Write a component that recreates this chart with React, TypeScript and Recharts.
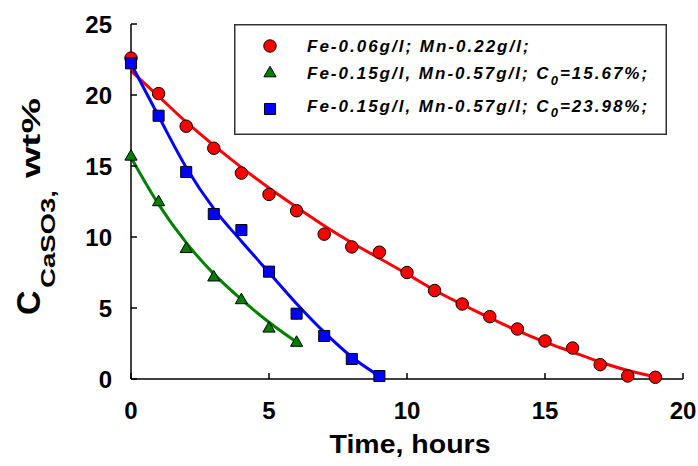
import React from 'react';
import { ComposedChart, Line, Scatter, XAxis, YAxis, Legend, Label, Symbols } from 'recharts';

const FONT = 'Arial, "Liberation Sans", sans-serif';

// measured points
const redHours = [0, 1, 2, 3, 4, 5, 6, 7, 8, 9, 10, 11, 12, 13, 14, 15, 16, 17, 18, 19];
const redValues = [22.6, 20.1, 17.8, 16.25, 14.5, 13.0, 11.85, 10.2, 9.3, 8.93, 7.5, 6.23, 5.28, 4.39, 3.52, 2.68, 2.18, 1.01, 0.21, 0.12];
const greenHours = [0, 1, 2, 3, 4, 5, 6];
const greenValues = [15.66, 12.45, 9.15, 7.15, 5.55, 3.55, 2.55];
const blueHours = [0, 1, 2, 3, 4, 5, 6, 7, 8, 9];
const blueValues = [22.23, 18.54, 14.58, 11.62, 10.49, 7.56, 4.6, 3.03, 1.41, 0.21];

// fitted curves
const redFit = [21.7, 19.9, 18.1, 16.45, 14.9, 13.45, 12.1, 10.8, 9.6, 8.5, 7.4, 6.25, 5.25, 4.3, 3.4, 2.6, 1.9, 1.2, 0.6, 0.15];
const greenFit = [15.6, 12.3, 9.6, 7.4, 5.6, 4.0, 2.6];
const blueFit = [22.2, 18.5, 14.9, 12.0, 9.7, 7.5, 5.3, 3.3, 1.55, 0.2];

const xTicks = [0, 5, 10, 15, 20];
const yTicks = [0, 5, 10, 15, 20, 25];
const yMinorTicks = [0, 1, 2, 3, 4, 5, 6, 7, 8, 9, 10, 11, 12, 13, 14, 15, 16, 17, 18, 19, 20, 21, 22, 23, 24, 25];

const legendPrefix = ['Fe-0.06g/l; Mn-0.22g/l;', 'Fe-0.15g/l, Mn-0.57g/l; C', 'Fe-0.15g/l, Mn-0.57g/l; C'];
const legendSub = ['', '0', '0'];
const legendSuffix = ['', '=15.67%;', '=23.98%;'];
const legendShapes = ['circle', 'triangle', 'square'] as const;
const legendColors = ['#FF0000', '#008000', '#0000FF'];

const toRows = (xs: number[], ys: number[]) => xs.map((x, i) => ({ x, y: ys[i] }));

const marker = (type: 'circle' | 'triangle' | 'square', fill: string) => (p: any) => (
  <Symbols
    cx={p.cx}
    cy={p.cy}
    type={type}
    size={type === 'triangle' ? 64 : 122}
    fill={fill}
    stroke="#000"
    strokeWidth={1}
  />
);

const YTitle = () => (
  <g transform="translate(39.5, 315) rotate(-90)" fontFamily={FONT} fontWeight="bold" fill="#000">
    <text x={0} y={0} fontSize={34}>C</text>
    <text x={27} y={15.5} fontSize={21} textLength={98} lengthAdjust="spacingAndGlyphs">CaSO3,</text>
    <text x={137} y={0} fontSize={25} textLength={80} lengthAdjust="spacingAndGlyphs">wt%</text>
  </g>
);

const XTitle = (props: any) => {
  const vb = props.viewBox;
  return (
    <text
      x={vb.x + vb.width / 2 + 3}
      y={vb.y + 73.7}
      textAnchor="middle"
      fontFamily={FONT}
      fontWeight="bold"
      fontSize={26}
      textLength={161}
      lengthAdjust="spacingAndGlyphs"
      fill="#000"
    >
      Time, hours
    </text>
  );
};

const LegendBox = () => (
  <svg width={433} height={111} style={{ display: 'block' }}>
    <rect x={0.75} y={0.75} width={431.5} height={109.5} fill="#fff" stroke="#333" strokeWidth={1.5} />
    {legendPrefix.map((t, i) => {
      const rowY = [22, 49.3, 85][i];
      const baseY = [28.3, 55.3, 87.7][i];
      return (
        <g key={t + i}>
          <Symbols
            cx={36}
            cy={rowY}
            type={legendShapes[i]}
            size={legendShapes[i] === 'triangle' ? 64 : 122}
            fill={legendColors[i]}
            stroke="#000"
            strokeWidth={1}
          />
          <text
            x={73}
            y={baseY}
            fontFamily={FONT}
            fontWeight="bold"
            fontStyle="italic"
            fontSize={17}
            letterSpacing={2}
            fill="#000"
          >
            {t}
            {legendSub[i] && (
              <tspan fontSize={13} dy={5.5}>{legendSub[i]}</tspan>
            )}
            {legendSuffix[i] && (
              <tspan fontSize={17} dy={-5.5}>{legendSuffix[i]}</tspan>
            )}
          </text>
        </g>
      );
    })}
  </svg>
);

const tickStyle = { fontSize: 24, fontWeight: 'bold', fill: '#000', fontFamily: FONT };
const lineStyle = { stroke: '#000', strokeWidth: 1.5 };

export default function App() {
  return (
    <div style={{ width: 698, height: 466, background: '#fff' }}>
      <style>{'body{margin:0;background:#fff}'}</style>
      <ComposedChart width={698} height={466} margin={{ top: 24, right: 15, bottom: 0, left: 0 }}>
        <XAxis
          dataKey="x"
          type="number"
          domain={[0, 20]}
          ticks={xTicks}
          height={87}
          tickSize={-6}
          tickMargin={29}
          tick={tickStyle}
          axisLine={lineStyle}
          tickLine={lineStyle}
        >
          <Label content={XTitle} />
        </XAxis>
        <XAxis
          xAxisId="top"
          orientation="top"
          type="number"
          domain={[0, 20]}
          allowDataOverflow
          height={0}
          tick={false}
          tickLine={false}
          axisLine={lineStyle}
        />
        <YAxis
          type="number"
          domain={[0, 25]}
          ticks={yTicks}
          width={131}
          tickSize={-6}
          tickMargin={25}
          tick={tickStyle}
          axisLine={lineStyle}
          tickLine={lineStyle}
        >
          <Label content={YTitle} />
        </YAxis>
        <YAxis
          yAxisId="leftMinor"
          type="number"
          domain={[0, 25]}
          allowDataOverflow
          ticks={yMinorTicks}
          width={0}
          tickSize={-3}
          tick={false}
          axisLine={false}
          tickLine={lineStyle}
        />
        <YAxis
          yAxisId="right"
          orientation="right"
          type="number"
          domain={[0, 25]}
          allowDataOverflow
          ticks={yTicks}
          width={0}
          tickSize={-6}
          tick={false}
          axisLine={lineStyle}
          tickLine={lineStyle}
        />
        <YAxis
          yAxisId="rightMinor"
          orientation="right"
          type="number"
          domain={[0, 25]}
          allowDataOverflow
          ticks={yMinorTicks}
          width={0}
          tickSize={-3}
          tick={false}
          axisLine={false}
          tickLine={lineStyle}
        />
        <Legend
          layout="vertical"
          align="center"
          verticalAlign="middle"
          content={LegendBox}
          wrapperStyle={{ left: 234, top: 24, width: 433, height: 111 }}
        />
        <Line data={toRows(redHours, redFit)} dataKey="y" type="monotone" stroke="#FF0000" strokeWidth={3} dot={false} isAnimationActive={false} legendType="none" />
        <Line data={toRows(greenHours, greenFit)} dataKey="y" type="monotone" stroke="#008000" strokeWidth={3} dot={false} isAnimationActive={false} legendType="none" />
        <Line data={toRows(blueHours, blueFit)} dataKey="y" type="monotone" stroke="#0000FF" strokeWidth={3} dot={false} isAnimationActive={false} legendType="none" />
        <Scatter data={toRows(redHours, redValues)} dataKey="y" shape={marker('circle', '#FF0000')} isAnimationActive={false} />
        <Scatter data={toRows(greenHours, greenValues)} dataKey="y" shape={marker('triangle', '#008000')} isAnimationActive={false} />
        <Scatter data={toRows(blueHours, blueValues)} dataKey="y" shape={marker('square', '#0000FF')} isAnimationActive={false} />
      </ComposedChart>
    </div>
  );
}
